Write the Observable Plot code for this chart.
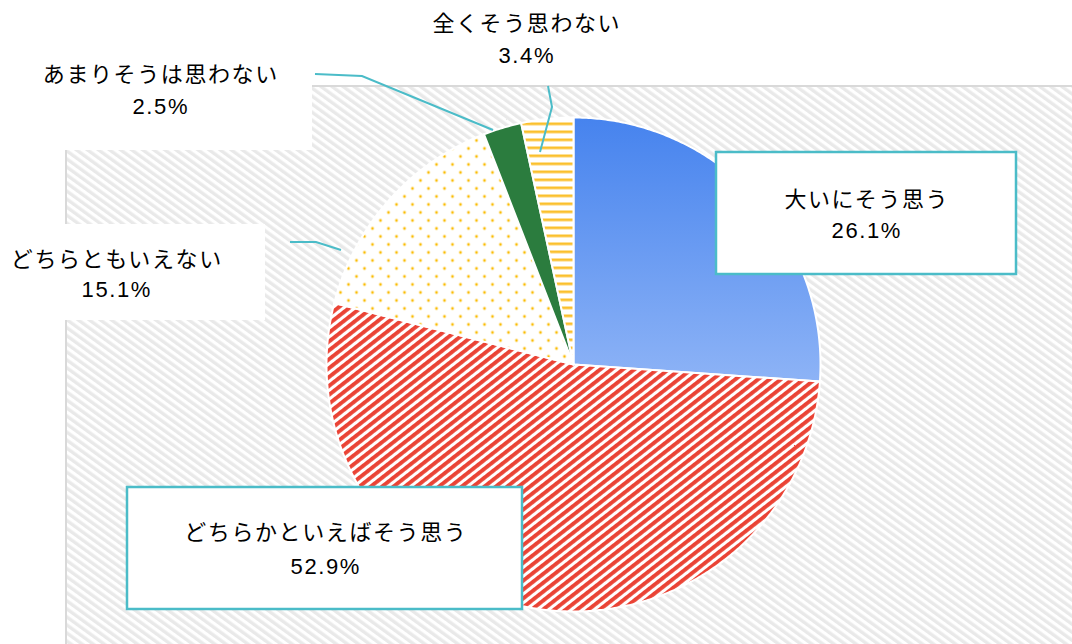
<!DOCTYPE html>
<html><head><meta charset="utf-8">
<script src="https://cdn.jsdelivr.net/npm/d3@7"></script>
<script src="https://cdn.jsdelivr.net/npm/@observablehq/plot@0.6"></script>
<style>
body{margin:0;background:#fff;}
#chart{width:1072px;height:644px;}
</style>
</head><body><div id="chart"></div>
<script>
// ---- data ----
const categories = ["大いにそう思う", "どちらかといえばそう思う", "どちらともいえない", "あまりそうは思わない", "全くそう思わない"];
const values = [26.1, 52.9, 15.1, 2.5, 3.4];
const valueLabels = values.map(v => v.toFixed(1) + "%");

// ---- styles ----
const sliceFills = ["url(#blueGrad)", "url(#redStripes)", "url(#yellowDots)", "#2b7c3e", "url(#yellowLines)"];
const teal = "#4bbcc8";
const font = "'Liberation Sans', 'Noto Sans CJK JP', sans-serif";

// ---- layout (pixels) ----
const pieBox = {x0: 326, x1: 820, y0: 117, y1: 611};
const labelLayout = [
  {cx: 866, y1: 207, y2: 238, box: [716, 152, 300, 122], border: true},
  {cx: 325, y1: 540, y2: 574, box: [127, 487, 395, 122], border: true},
  {cx: 116, y1: 267, y2: 297, box: [0, 224, 265, 96], border: false},
  {cx: 160, y1: 82, y2: 114, box: [0, 40, 312, 110], border: false},
  {cx: 526, y1: 31, y2: 63, box: null, border: false}
];
const leaders = [null, null,
  [[290, 242], [316, 242], [341, 250]],
  [[315, 74], [362, 76], [493, 130]],
  [[548, 86], [552, 107], [540, 152]]
];
const plotArea = {x: 66, y: 86};

// ---- slice geometry from data ----
const arcs = d3.pie().sort(null).value(d => d)(values);
const slicePts = arcs.map(a => {
  const pts = [{x: 0, y: 0}];
  const n = Math.max(2, Math.ceil((a.endAngle - a.startAngle) / (Math.PI / 360)));
  for (let k = 0; k <= n; k++) {
    const t = a.startAngle + (a.endAngle - a.startAngle) * k / n;
    pts.push({x: Math.sin(t), y: Math.cos(t)});
  }
  pts.push({x: 0, y: 0});
  return pts;
});

// ---- custom marks ----
function backgroundMark(index, scales, values, dims) {
  const g = d3.create("svg:g");
  const defs = g.append("defs");
  const grad = defs.append("linearGradient").attr("id", "blueGrad")
    .attr("x1", 0).attr("y1", 0).attr("x2", 0).attr("y2", 1);
  grad.append("stop").attr("offset", "0%").attr("stop-color", "#4683ee");
  grad.append("stop").attr("offset", "100%").attr("stop-color", "#8db3f6");

  const red = defs.append("pattern").attr("id", "redStripes").attr("patternUnits", "userSpaceOnUse")
    .attr("width", 7).attr("height", 7).attr("patternTransform", "rotate(52)");
  red.append("rect").attr("width", 7).attr("height", 7).attr("fill", "#fff");
  red.append("rect").attr("width", 3.9).attr("height", 7).attr("fill", "#ea4335");

  const bg = defs.append("pattern").attr("id", "bgHatch").attr("patternUnits", "userSpaceOnUse")
    .attr("width", 6.5).attr("height", 6.5).attr("patternTransform", "rotate(-54)");
  bg.append("rect").attr("width", 6.5).attr("height", 6.5).attr("fill", "#fff");
  bg.append("rect").attr("width", 3.3).attr("height", 6.5).attr("fill", "#e9e9e9");

  const dots = defs.append("pattern").attr("id", "yellowDots").attr("patternUnits", "userSpaceOnUse")
    .attr("width", 16).attr("height", 16);
  dots.append("rect").attr("width", 16).attr("height", 16).attr("fill", "#fff");
  dots.append("circle").attr("cx", 4).attr("cy", 4).attr("r", 1.4).attr("fill", "#fbbc04");
  dots.append("circle").attr("cx", 12).attr("cy", 12).attr("r", 1.4).attr("fill", "#fbbc04");

  const lines = defs.append("pattern").attr("id", "yellowLines").attr("patternUnits", "userSpaceOnUse")
    .attr("width", 8).attr("height", 8);
  lines.append("rect").attr("width", 8).attr("height", 8).attr("fill", "#fff");
  lines.append("rect").attr("y", 2).attr("width", 8).attr("height", 2.7).attr("fill", "#fbc02d");

  g.append("rect").attr("x", plotArea.x).attr("y", plotArea.y)
    .attr("width", dims.width - plotArea.x + 10).attr("height", dims.height - plotArea.y + 10)
    .attr("fill", "url(#bgHatch)").attr("stroke", "#d9d9d9").attr("stroke-width", 2);
  return g.node();
}

function leaderMark() {
  const g = d3.create("svg:g");
  leaders.forEach(pts => {
    if (!pts) return;
    g.append("polyline").attr("points", pts.map(p => p.join(",")).join(" "))
      .attr("fill", "none").attr("stroke", teal).attr("stroke-width", 2);
  });
  return g.node();
}

function labelMark() {
  const g = d3.create("svg:g");
  labelLayout.forEach((L, i) => {
    if (L.box) {
      g.append("rect").attr("x", L.box[0]).attr("y", L.box[1])
        .attr("width", L.box[2]).attr("height", L.box[3])
        .attr("fill", "#fff")
        .attr("stroke", L.border ? teal : "none").attr("stroke-width", 2.5);
    }
    const t = g.append("text").attr("text-anchor", "middle")
      .attr("font-family", font).attr("font-size", 22).attr("letter-spacing", "1.6px").attr("fill", "#000");
    t.append("tspan").attr("x", L.cx + 0.8).attr("y", L.y1).text(categories[i]);
    t.append("tspan").attr("x", L.cx + 0.8).attr("y", L.y2).text(valueLabels[i]);
  });
  return g.node();
}

const chart = Plot.plot({
  width: 1072,
  height: 644,
  margin: 0,
  style: {background: "#fff"},
  x: {domain: [-1, 1], range: [pieBox.x0, pieBox.x1], axis: null},
  y: {domain: [-1, 1], range: [pieBox.y1, pieBox.y0], axis: null},
  marks: [
    backgroundMark,
    ...slicePts.map((pts, i) => Plot.line(pts, {
      x: "x", y: "y", fill: sliceFills[i], stroke: "white", strokeWidth: 2, strokeLinejoin: "round"
    })),
    leaderMark,
    labelMark
  ]
});
document.getElementById("chart").appendChild(chart);
</script>
</body></html>
